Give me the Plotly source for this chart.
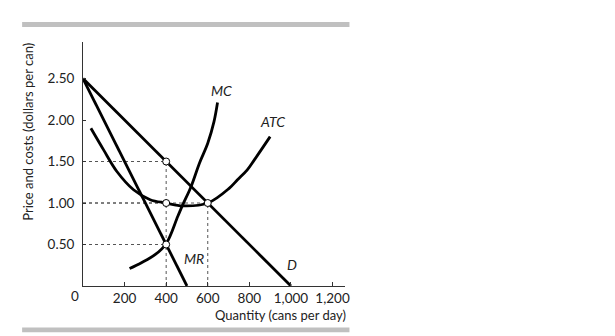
import plotly.graph_objects as go

# ---- data ----
D_q = [0, 1000]
D_p = [2.5, 0.0]

MR_q = [0, 500]
MR_p = [2.5, 0.0]

MC_q = [224, 281, 348, 400, 456, 480, 520, 560, 600, 630, 647]
MC_p = [0.21, 0.28, 0.38, 0.51, 0.84, 0.98, 1.20, 1.48, 1.72, 1.98, 2.21]

ATC_q = [38, 99, 163, 243, 323, 400, 480, 600, 704, 743, 790, 824, 900]
ATC_p = [1.90, 1.64, 1.38, 1.16, 1.04, 1.00, 0.965, 1.00, 1.18, 1.28, 1.40, 1.52, 1.80]

# marked points (quantity, price)
pt_q = [400, 400, 400, 600]
pt_p = [1.5, 1.0, 0.5, 1.0]

x_ticks = [200, 400, 600, 800, 1000, 1200]
x_ticktext = ["200", "400", "600", "800", "1,000", "1,200"]
y_ticks = [0.5, 1.0, 1.5, 2.0, 2.5]
y_ticktext = ["0.50", "1.00", "1.50", "2.00", "2.50"]

labels = ["MC", "ATC", "MR", "D"]
label_q = [664, 911, 536, 1007]
label_p = [2.36, 1.98, 0.33, 0.26]

FONT = "Lato"
TXT = "#222"
fig = go.Figure()

# dotted guide lines
for q, p in zip(pt_q, pt_p):
    fig.add_trace(go.Scatter(x=[0, q], y=[p, p], mode="lines",
                             line=dict(color="#555", width=1, dash="dot"),
                             hoverinfo="skip", showlegend=False))
for q, p in [(400, 1.5), (600, 1.0)]:
    fig.add_trace(go.Scatter(x=[q, q], y=[0, p], mode="lines",
                             line=dict(color="#555", width=1, dash="dot"),
                             hoverinfo="skip", showlegend=False))

curve_line = dict(color="black", width=2.8)
fig.add_trace(go.Scatter(x=D_q, y=D_p, mode="lines", line=curve_line, showlegend=False))
fig.add_trace(go.Scatter(x=MR_q, y=MR_p, mode="lines", line=curve_line, showlegend=False))
fig.add_trace(go.Scatter(x=MC_q, y=MC_p, mode="lines",
                         line=dict(color="black", width=2.8, shape="spline", smoothing=1),
                         showlegend=False))
fig.add_trace(go.Scatter(x=ATC_q, y=ATC_p, mode="lines",
                         line=dict(color="black", width=2.8, shape="spline", smoothing=1),
                         showlegend=False))

fig.add_trace(go.Scatter(x=pt_q, y=pt_p, mode="markers",
                         marker=dict(size=7, color="white", line=dict(color="black", width=1)),
                         showlegend=False))

for t, q, p in zip(labels, label_q, label_p):
    fig.add_annotation(x=q, y=p, text="<i>%s</i>" % t, showarrow=False,
                       font=dict(family=FONT, size=14, color=TXT))

# origin label
fig.add_annotation(x=0, y=0, xref="x", yref="y", text="0", showarrow=False,
                   xshift=-8, yshift=-10, font=dict(family=FONT, size=13.5, color=TXT))

# axis titles
fig.add_annotation(xref="paper", yref="paper", x=1.012, y=-0.12, text="Quantity (cans per day)",
                   showarrow=False, xanchor="right", yanchor="middle",
                   font=dict(family=FONT, size=13, color=TXT))
fig.add_annotation(xref="paper", yref="paper", x=-0.21, y=0.632, text="Price and costs (dollars per can)",
                   showarrow=False, textangle=-90, xanchor="center", yanchor="middle",
                   font=dict(family=FONT, size=13, color=TXT))

# grey rules above and below
for y0, y1 in [(1.061, 1.082), (-0.190, -0.170)]:
    fig.add_shape(type="rect", xref="paper", yref="paper", x0=-0.2324, x1=1.017, y0=y0, y1=y1,
                  fillcolor="#c0c0c0", line=dict(width=0), layer="above")

fig.update_xaxes(range=[0, 1260], showgrid=False, zeroline=False, showline=True,
                 linecolor="#333", linewidth=1, ticks="inside", ticklen=4, tickcolor="#333",
                 tickvals=x_ticks, ticktext=x_ticktext,
                 tickfont=dict(family=FONT, size=13.5, color=TXT))
fig.update_yaxes(range=[0, 2.94], showgrid=False, zeroline=False, showline=True,
                 linecolor="#333", linewidth=1, ticks="inside", ticklen=3, tickcolor="#333",
                 tickvals=y_ticks, ticktext=y_ticktext, ticklabelstandoff=5,
                 tickfont=dict(family=FONT, size=13.5, color=TXT))

fig.update_layout(width=615, height=336, margin=dict(l=83, r=269.5, t=42, b=49.5),
                  paper_bgcolor="white", plot_bgcolor="white")

fig.write_html("out.html")
